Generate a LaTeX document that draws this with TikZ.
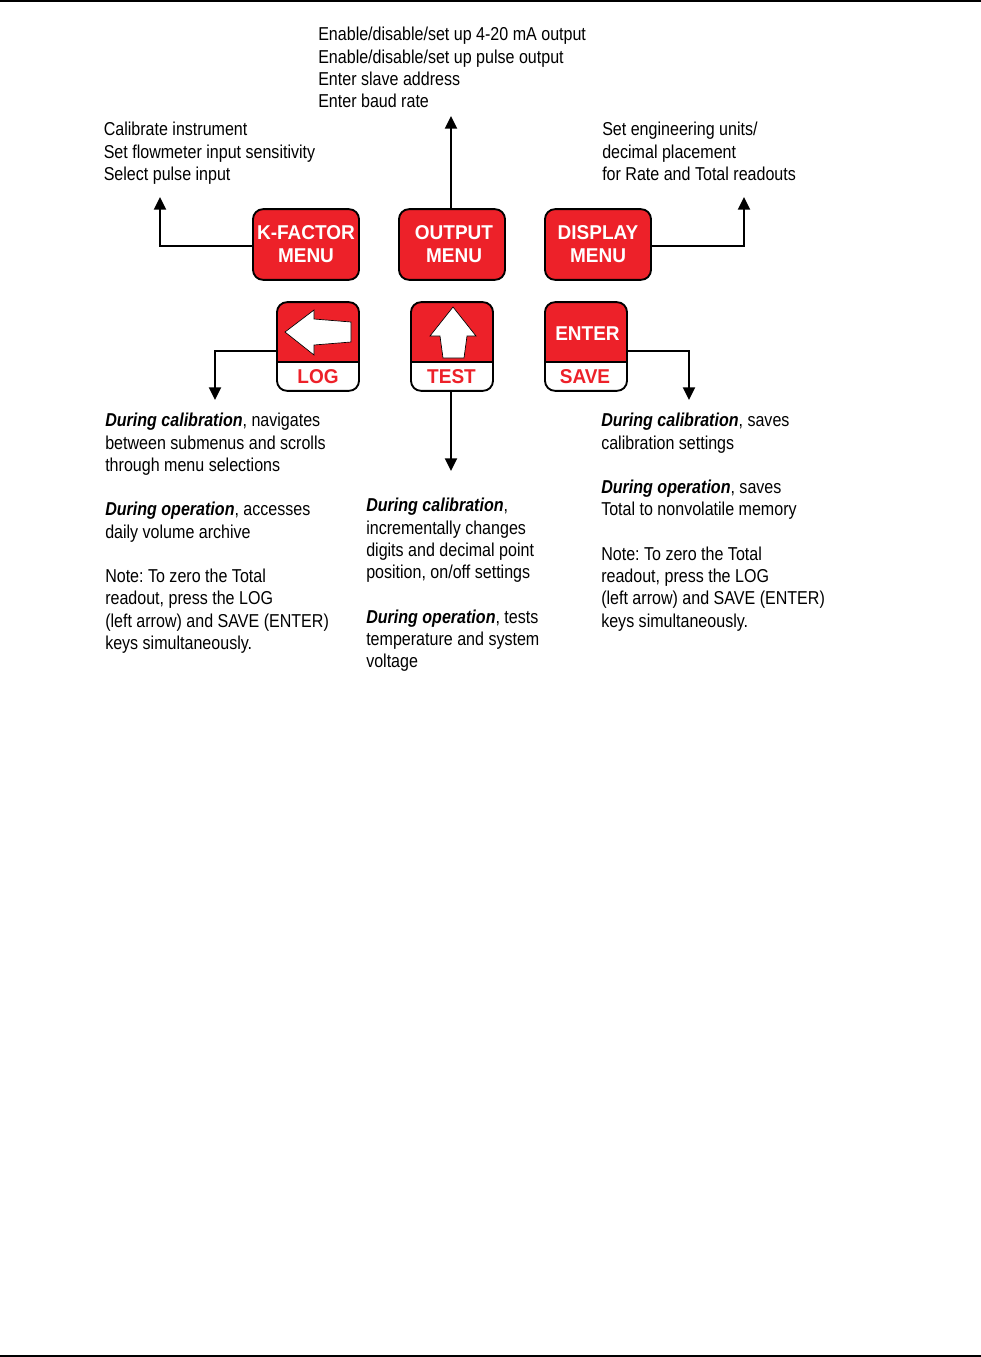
\documentclass[tikz,border=0pt]{standalone}
\usepackage{xcolor}
\usepackage{fontspec}
\usepackage{tikz}
\usetikzlibrary{arrows.meta, calc}
\setmainfont{Liberation Sans}
\newfontfamily\notefont[FakeStretch=0.86]{Liberation Sans}
\newfontfamily\keyfont[FakeStretch=0.95]{Liberation Sans}
\definecolor{keyred}{HTML}{ED2129}
\tikzset{
  menukey/.style={
    rectangle, rounded corners=7.5pt, draw=black, line width=1.4pt,
    fill=keyred, minimum width=79.5pt, minimum height=53pt,
    inner sep=0pt, align=center, text=white,
    font=\keyfont\fontsize{15}{17.2}\selectfont\bfseries,
  },
  softkey/.style={
    rectangle, rounded corners=7.5pt, draw=black, line width=1.4pt,
    fill=white, minimum width=61.5pt, minimum height=66.5pt, inner sep=0pt,
    path picture={\fill[keyred,sharp corners] (path picture bounding box.north west) rectangle
      ($(path picture bounding box.north east)+(0,-45pt)$);
      \draw[black,line width=1.4pt,sharp corners] ($(path picture bounding box.north west)+(0,-45pt)$) --
      ($(path picture bounding box.north east)+(0,-45pt)$);},
  },
  keyname/.style={font=\keyfont\fontsize{15}{18}\selectfont\bfseries, inner sep=0pt},
  note/.style={
    anchor=north west, inner sep=0pt, align=left,
    font=\notefont\frenchspacing\fontsize{14}{16.7}\selectfont,
  },
  wire/.style={-{Triangle[length=9.5pt,width=9pt]}, line width=1.5pt},
  keyarrow/.style={fill=white, draw=black, line width=0.5pt},
}
\newcommand{\during}[1]{{\itshape\bfseries During #1}}
\begin{document}
\begin{tikzpicture}[x=0.75pt,y=-0.75pt]
  \useasboundingbox (0,0) rectangle (981,1357);
  \draw[line width=1.5pt] (0,1) -- (981,1);
  \draw[line width=1.5pt] (0,1356) -- (981,1356);
  % menu keys
  \node[menukey] (kfactor) at (306,244.5) {K-FACTOR\\MENU};
  \node[menukey] (output) at (452,244.5) {\hspace*{3pt}OUTPUT\\\hspace*{3pt}MENU};
  \node[menukey] (display) at (598,244.5) {DISPLAY\\MENU};
  % soft keys
  \node[softkey] (log) at (318,346.5) {};
  \node[softkey] (test) at (452,346.5) {};
  \node[softkey] (enter) at (586,346.5) {};
  \node[keyname,text=keyred] (logname) at (318,377) {LOG};
  \node[keyname,text=keyred] (testname) at (451.5,377) {TEST};
  \node[keyname,text=keyred] (savename) at (585,377) {SAVE};
  \node[keyname,text=white] (entername) at (587.5,333.5) {ENTER};
  \draw[keyarrow] (285,332) -- (314,310) -- (314,319) -- (351,322) -- (351,342) -- (314,345) -- (314,355) -- cycle;
  \draw[keyarrow] (453,307) -- (476,336) -- (467,336) -- (464,358) -- (443,358) -- (440,336) -- (430,336) -- cycle;
  % notes
  \node[note] (kfnote) at (103.5,122) {Calibrate instrument\\Set flowmeter input sensitivity\\Select pulse input};
  \node[note] (outnote) at (318,27) {Enable/disable/set up 4-20 mA output\\Enable/disable/set up pulse output\\Enter slave address\\Enter baud rate};
  \node[note] (dispnote) at (602,122) {Set engineering units/\\decimal placement\\for Rate and Total readouts};
  \node[note] (lognote) at (105,413) {\during{calibration}, navigates\\between submenus and scrolls\\through menu selections\\[\baselineskip]\during{operation}, accesses\\daily volume archive\\[\baselineskip]Note: To zero the Total\\readout, press the LOG\\(left arrow) and SAVE (ENTER)\\keys simultaneously.};
  \node[note] (testnote) at (366,498) {\during{calibration},\\incrementally changes\\digits and decimal point\\position, on/off settings\\[\baselineskip]\during{operation}, tests\\temperature and system\\voltage};
  \node[note] (savenote) at (601,413) {\during{calibration}, saves\\calibration settings\\[\baselineskip]\during{operation}, saves\\Total to nonvolatile memory\\[\baselineskip]Note: To zero the Total\\readout, press the LOG\\(left arrow) and SAVE (ENTER)\\keys simultaneously.};
  % connectors
  \coordinate (kfend) at (160,197);
  \coordinate (outend) at (451,116);
  \coordinate (dispend) at (744,197);
  \coordinate (logend) at (215,400);
  \coordinate (testend) at (451,471);
  \coordinate (saveend) at (689,400);
  \draw[wire] (kfactor.west |- 0,246) -| (kfend);
  \draw[wire] (output.north -| outend) -- (outend);
  \draw[wire] (display.east |- 0,246) -| (dispend);
  \draw[wire] (log.west |- 0,351) -| (logend);
  \draw[wire] (test.south -| testend) -- (testend);
  \draw[wire] (enter.east |- 0,351) -| (saveend);
\end{tikzpicture}
\end{document}
